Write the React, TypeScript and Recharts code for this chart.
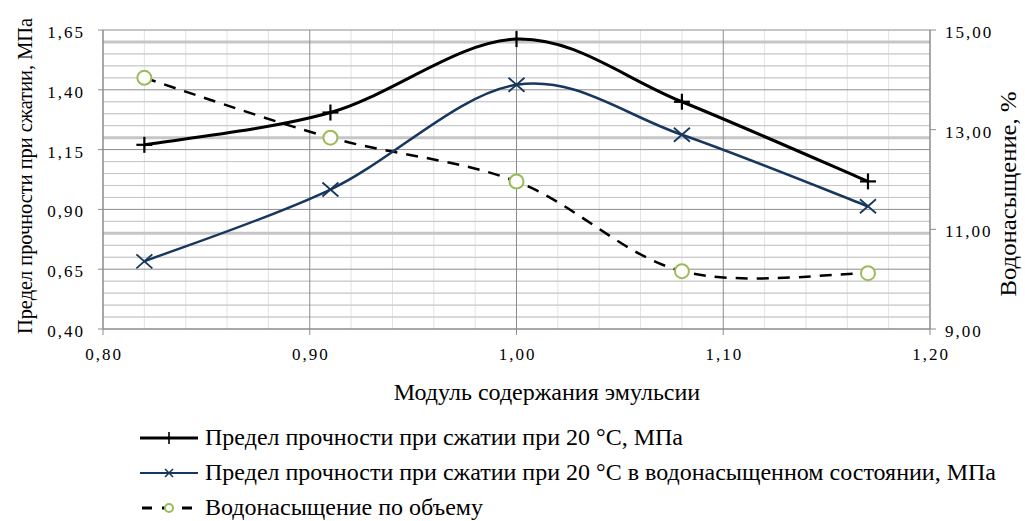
import React from 'react'
import { ComposedChart, Line, XAxis, YAxis, CartesianGrid } from 'recharts'

// x values (модуль содержания эмульсии)
const modules = [0.82, 0.91, 1.0, 1.08, 1.17]
// прочность при 20 °C, МПа
const strength = [1.17, 1.305, 1.612, 1.35, 1.017]
// прочность в водонасыщенном состоянии, МПа
const strengthWet = [0.683, 0.983, 1.421, 1.212, 0.913]
// водонасыщение, %
const saturation = [14.04, 12.84, 11.96, 10.16, 10.12]

const xTicks = [0.8, 0.9, 1.0, 1.1, 1.2]
const leftTicks = [0.4, 0.65, 0.9, 1.15, 1.4, 1.65]
const rightTicks = [9, 11, 13, 15]
const xMinor = [0.82, 0.84, 0.86, 0.88, 0.92, 0.94, 0.96, 0.98, 1.02, 1.04, 1.06, 1.08, 1.12, 1.14, 1.16, 1.18]
const yMinor = [0.45, 0.5, 0.55, 0.6, 0.7, 0.75, 0.8, 0.85, 0.95, 1.0, 1.05, 1.1, 1.2, 1.25, 1.3, 1.35, 1.45, 1.5, 1.55, 1.6]
const yBands = [0.8, 1.2, 1.6]

const labels = {
  strength: 'Предел прочности при сжатии при 20 °C, МПа',
  strengthWet: 'Предел прочности при сжатии при 20 °C в водонасыщенном состоянии, МПа',
  saturation: 'Водонасыщение по объему',
}

const rows = modules.map((m, i) => ({
  m,
  strength: strength[i],
  strengthWet: strengthWet[i],
  saturation: saturation[i],
}))

const FONT = '"Liberation Serif", "Times New Roman", serif'
const NAVY = '#17375e'
const GREEN = '#9bbb59'

const comma = (v: number) => v.toFixed(2).replace('.', ',')

// Excel-like smoothed line (cardinal bezier through the points)
function excelCurve(context: any) {
  let pts: [number, number][] = []
  return {
    areaStart() {},
    areaEnd() {},
    lineStart() {
      pts = []
    },
    lineEnd() {
      if (!pts.length) return
      context.moveTo(pts[0][0], pts[0][1])
      for (let i = 0; i < pts.length - 1; i++) {
        const p0 = pts[i - 1] || pts[i]
        const p1 = pts[i]
        const p2 = pts[i + 1]
        const p3 = pts[i + 2] || p2
        context.bezierCurveTo(
          p1[0] + (p2[0] - p0[0]) / 6,
          p1[1] + (p2[1] - p0[1]) / 6,
          p2[0] - (p3[0] - p1[0]) / 6,
          p2[1] - (p3[1] - p1[1]) / 6,
          p2[0],
          p2[1]
        )
      }
    },
    point(x: number, y: number) {
      pts.push([+x, +y])
    },
  }
}

const PlusDot = (p: any) => {
  const { cx, cy } = p
  if (cx == null || cy == null) return <g key={p.key} />
  return (
    <g key={p.key} stroke="#000" strokeWidth={2.2}>
      <line x1={cx - 8} y1={cy} x2={cx + 8} y2={cy} />
      <line x1={cx} y1={cy - 8} x2={cx} y2={cy + 8} />
    </g>
  )
}

const CrossDot = (p: any) => {
  const { cx, cy } = p
  if (cx == null || cy == null) return <g key={p.key} />
  return (
    <g key={p.key} stroke={NAVY} strokeWidth={1.8}>
      <line x1={cx - 8} y1={cy - 7} x2={cx + 8} y2={cy + 7} />
      <line x1={cx - 8} y1={cy + 7} x2={cx + 8} y2={cy - 7} />
    </g>
  )
}

const CircleDot = (p: any) => {
  const { cx, cy } = p
  if (cx == null || cy == null) return <g key={p.key} />
  return <circle key={p.key} cx={cx} cy={cy} r={7} fill="#fff" stroke={GREEN} strokeWidth={2} />
}

const makeTick = (anchor: 'start' | 'middle' | 'end', dx: number, dy: number) => (p: any) => (
  <text
    x={p.x + dx}
    y={p.y + dy}
    textAnchor={anchor}
    fontFamily={FONT}
    fontSize={17}
    letterSpacing={2}
    fill="#000"
  >
    {comma(p.payload.value)}
  </text>
)

function LegendRow({ kind, text, top }: { kind: 'strength' | 'strengthWet' | 'saturation'; text: string; top: number }) {
  return (
    <div style={{ position: 'absolute', left: 138, top, height: 35, display: 'flex', alignItems: 'center', whiteSpace: 'nowrap' }}>
      <svg width={64} height={20} style={{ marginRight: 3 }}>
        {kind === 'strength' && (
          <>
            <line x1={2} y1={10} x2={60} y2={10} stroke="#000" strokeWidth={3} />
            <line x1={31} y1={4} x2={31} y2={16} stroke="#000" strokeWidth={1.6} />
          </>
        )}
        {kind === 'strengthWet' && (
          <>
            <line x1={2} y1={10} x2={60} y2={10} stroke={NAVY} strokeWidth={2} />
            <line x1={27} y1={6} x2={35} y2={14} stroke={NAVY} strokeWidth={1.6} />
            <line x1={27} y1={14} x2={35} y2={6} stroke={NAVY} strokeWidth={1.6} />
          </>
        )}
        {kind === 'saturation' && (
          <>
            <line x1={2} y1={10} x2={60} y2={10} stroke="#000" strokeWidth={3} strokeDasharray="10 10" strokeDashoffset={-2} />
            <circle cx={31} cy={10} r={4} fill="#fff" stroke={GREEN} strokeWidth={2} />
          </>
        )}
      </svg>
      <span style={{ fontFamily: FONT, fontSize: 24, lineHeight: '35px', color: '#000' }}>{text}</span>
    </div>
  )
}

export default function App() {
  return (
    <div style={{ position: 'absolute', left: 0, top: 0, width: 1025, height: 521, background: '#fff' }}>
      <ComposedChart width={1025} height={521} data={rows} margin={{ top: 30, right: 0, left: 0, bottom: 162 }}>
        <CartesianGrid yAxisId="left" horizontalValues={yMinor} verticalValues={xMinor} stroke="#e2e2e2" strokeWidth={1} />
        <CartesianGrid yAxisId="left" horizontalValues={yMinor} vertical={false} stroke="#c4c4c4" strokeWidth={1} />
        <CartesianGrid yAxisId="left" horizontalValues={yBands} vertical={false} stroke="#c6c6c6" strokeWidth={3} />
        <CartesianGrid yAxisId="left" horizontalValues={leftTicks} verticalValues={xTicks} stroke="#8c8c8c" strokeWidth={1} />
        <XAxis
          dataKey="m"
          type="number"
          domain={[0.8, 1.2]}
          ticks={xTicks}
          height={30}
          stroke="#8c8c8c"
          tickSize={6}
          tickMargin={5}
          tick={makeTick('middle', 1, 20)}
          interval={0}
          label={{
            content: () => (
              <text x={547} y={400} textAnchor="middle" fontFamily={FONT} fontSize={24} fill="#000">
                Модуль содержания эмульсии
              </text>
            ),
          }}
        />
        <YAxis
          yAxisId="left"
          domain={[0.4, 1.65]}
          ticks={leftTicks}
          width={103}
          stroke="#8c8c8c"
          tickSize={5}
          tickMargin={13}
          tick={makeTick('end', 0, 8)}
          interval={0}
          label={{
            content: () => (
              <text
                x={32}
                y={176}
                transform="rotate(-90 32 176)"
                textAnchor="middle"
                fontFamily={FONT}
                fontSize={21}
                textLength={316}
                lengthAdjust="spacingAndGlyphs"
                fill="#000"
              >
                Предел прочности при сжатии, МПа
              </text>
            ),
          }}
        />
        <YAxis
          yAxisId="right"
          orientation="right"
          domain={[9, 15]}
          ticks={rightTicks}
          width={95}
          stroke="#8c8c8c"
          tickSize={6}
          tickMargin={9}
          tick={makeTick('start', 0, 8)}
          interval={0}
          label={{
            content: () => (
              <text
                x={1016}
                y={194}
                transform="rotate(-90 1016 194)"
                textAnchor="middle"
                fontFamily={FONT}
                fontSize={23}
                textLength={205}
                lengthAdjust="spacingAndGlyphs"
                fill="#000"
              >
                Водонасыщение, %
              </text>
            ),
          }}
        />
        <Line
          yAxisId="right"
          dataKey="saturation"
          type={excelCurve as any}
          stroke="#000"
          strokeWidth={2.5}
          strokeDasharray="12 9"
          dot={CircleDot}
          isAnimationActive={false}
        />
        <Line
          yAxisId="left"
          dataKey="strengthWet"
          type={excelCurve as any}
          stroke={NAVY}
          strokeWidth={2.5}
          dot={CrossDot}
          isAnimationActive={false}
        />
        <Line
          yAxisId="left"
          dataKey="strength"
          type={excelCurve as any}
          stroke="#000"
          strokeWidth={3}
          dot={PlusDot}
          isAnimationActive={false}
        />
      </ComposedChart>
      <LegendRow kind="strength" text={labels.strength} top={420} />
      <LegendRow kind="strengthWet" text={labels.strengthWet} top={455} />
      <LegendRow kind="saturation" text={labels.saturation} top={490} />
    </div>
  )
}
